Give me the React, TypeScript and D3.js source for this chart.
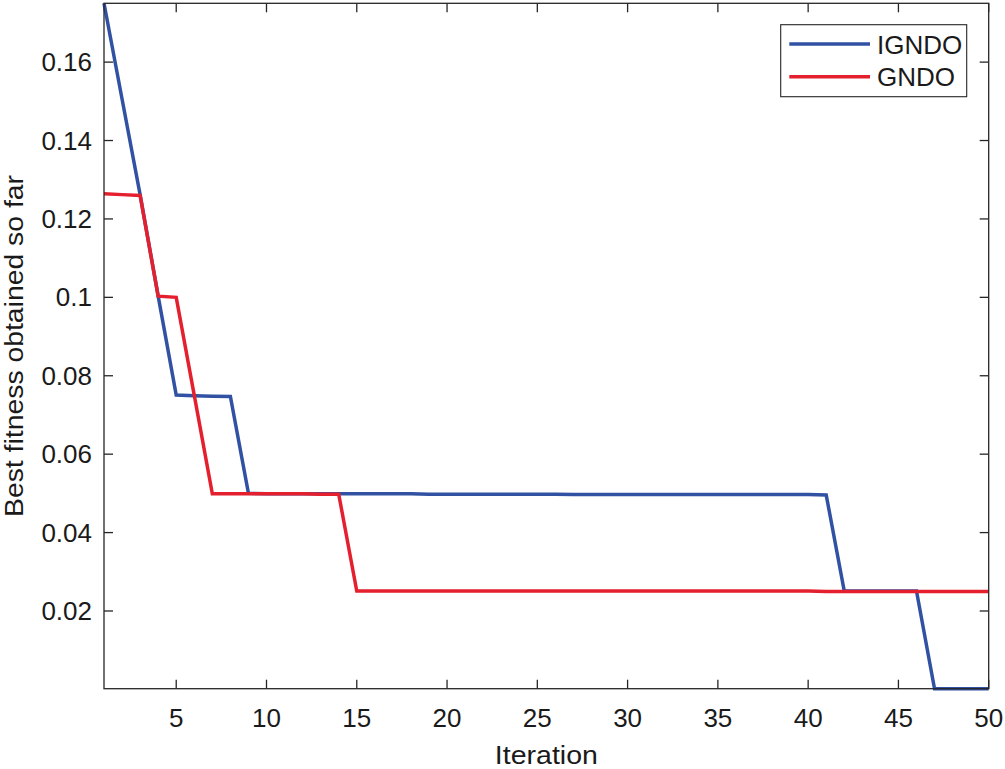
import React from "react";
import * as d3 from "d3";

// iterations 1..50
const iterations = d3.range(1, 51);

const igndo = [
  0.175, 0.1506, 0.1262, 0.1003, 0.0751, 0.0749, 0.0748, 0.0747, 0.05, 0.0499,
  0.0499, 0.0499, 0.0499, 0.0499, 0.0499, 0.0499, 0.0499, 0.0499, 0.0498, 0.0498,
  0.0498, 0.0498, 0.0498, 0.0498, 0.0498, 0.0498, 0.0497, 0.0497, 0.0497, 0.0497,
  0.0497, 0.0497, 0.0497, 0.0497, 0.0497, 0.0497, 0.0497, 0.0497, 0.0497, 0.0497,
  0.0496, 0.0251, 0.0251, 0.0251, 0.0251, 0.0251, 0.00018, 0.00018, 0.00018, 0.00018,
];

const gndo = [
  0.1264, 0.1262, 0.126, 0.1003, 0.1, 0.075, 0.0499, 0.0499, 0.0499, 0.0499,
  0.0499, 0.0499, 0.0498, 0.0498, 0.0251, 0.0251, 0.0251, 0.0251, 0.0251, 0.0251,
  0.0251, 0.0251, 0.0251, 0.0251, 0.0251, 0.0251, 0.0251, 0.0251, 0.0251, 0.0251,
  0.0251, 0.0251, 0.0251, 0.0251, 0.0251, 0.0251, 0.0251, 0.0251, 0.0251, 0.0251,
  0.025, 0.025, 0.025, 0.025, 0.025, 0.025, 0.025, 0.025, 0.025, 0.025,
];

const xTicks = [5, 10, 15, 20, 25, 30, 35, 40, 45, 50];
const yTicks = [0.02, 0.04, 0.06, 0.08, 0.1, 0.12, 0.14, 0.16];

const seriesNames = ["IGNDO", "GNDO"];
const seriesColors = ["#3151a3", "#e5202e"];

const W = 1005;
const H = 769;
const margin = { left: 104, right: 16.3, top: 3.3, bottom: 80.3 };
const axisColor = "#262626";
const font = "'Liberation Sans', Arial, Helvetica, sans-serif";

const App = () => {
  const x = d3
    .scaleLinear()
    .domain([1, 50])
    .range([margin.left, W - margin.right]);

  const allVals = igndo.concat(gndo);
  const y = d3
    .scaleLinear()
    .domain(d3.extent(allVals) as [number, number])
    .range([H - margin.bottom, margin.top]);

  const line = d3
    .line<number>()
    .x((_, i) => x(iterations[i]))
    .y((d) => y(d));

  const x0 = margin.left;
  const x1 = W - margin.right;
  const y0 = H - margin.bottom;
  const y1 = margin.top;
  const tick = 9;

  const series = [igndo, gndo];

  return (
    <svg
      width={W}
      height={H}
      style={{ position: "absolute", left: 0, top: 0, background: "#fff" }}
      fontFamily={font}
    >
      {/* lines */}
      <g fill="none" strokeWidth={3.5} strokeLinejoin="miter">
        {series.map((s, i) => (
          <path key={seriesNames[i]} d={line(s) || ""} stroke={seriesColors[i]} />
        ))}
      </g>

      {/* box */}
      <rect
        x={x0}
        y={y1}
        width={x1 - x0}
        height={y0 - y1}
        fill="none"
        stroke={axisColor}
        strokeWidth={1.3}
      />

      {/* ticks, inside, mirrored on top/right */}
      <g stroke={axisColor} strokeWidth={1.3}>
        {xTicks.map((t) => (
          <g key={"xt" + t}>
            <line x1={x(t)} x2={x(t)} y1={y0} y2={y0 - tick} />
            <line x1={x(t)} x2={x(t)} y1={y1} y2={y1 + tick} />
          </g>
        ))}
        {yTicks.map((t) => (
          <g key={"yt" + t}>
            <line x1={x0} x2={x0 + tick} y1={y(t)} y2={y(t)} />
            <line x1={x1} x2={x1 - tick} y1={y(t)} y2={y(t)} />
          </g>
        ))}
      </g>

      {/* tick labels */}
      <g fill="#1a1a1a" fontSize={26}>
        {xTicks.map((t) => (
          <text key={"xl" + t} x={x(t)} y={727} textAnchor="middle">
            {t}
          </text>
        ))}
        {yTicks.map((t) => (
          <text key={"yl" + t} x={92} y={y(t) + 9} textAnchor="end">
            {String(t)}
          </text>
        ))}
      </g>

      {/* axis labels */}
      <text
        x={(x0 + x1) / 2}
        y={764}
        textAnchor="middle"
        fontSize={26}
        fill="#1a1a1a"
        textLength={103}
        lengthAdjust="spacingAndGlyphs"
      >
        Iteration
      </text>
      <text
        transform={`translate(23, ${(y0 + y1) / 2}) rotate(-90)`}
        textAnchor="middle"
        fontSize={26}
        fill="#1a1a1a"
        textLength={342}
        lengthAdjust="spacingAndGlyphs"
      >
        Best fitness obtained so far
      </text>

      {/* legend */}
      <g>
        <rect x={780.7} y={24.7} width={186} height={72} fill="#fff" stroke={axisColor} strokeWidth={1.1} />
        {seriesNames.map((n, i) => (
          <g key={n}>
            <line
              x1={789.3}
              x2={870}
              y1={44 + i * 32.7}
              y2={44 + i * 32.7}
              stroke={seriesColors[i]}
              strokeWidth={3.5}
            />
            <text x={877} y={53.5 + i * 32.7} fontSize={26} fill="#1a1a1a">
              {n}
            </text>
          </g>
        ))}
      </g>
    </svg>
  );
};

export default App;
